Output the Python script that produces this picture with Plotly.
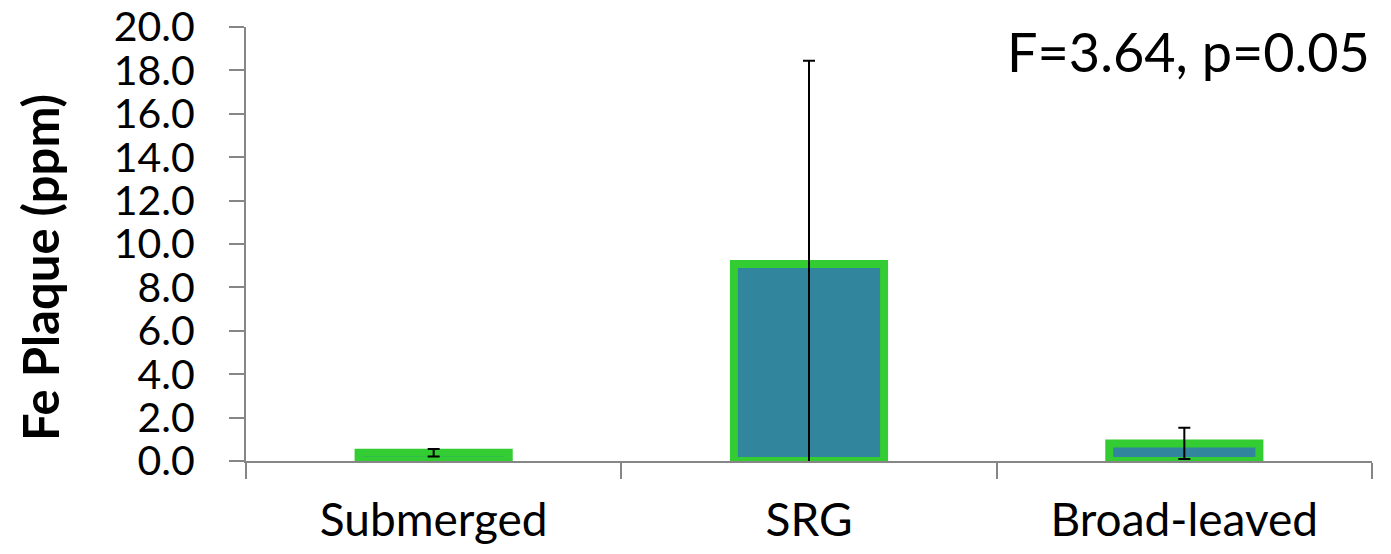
import plotly.graph_objects as go

# Fe plaque concentration by plant group
categories = ["Submerged", "SRG", "Broad-leaved"]
fe_mean = [0.38, 9.08, 0.81]
fe_err = [0.17, 9.37, 0.72]
y_ticks = [0, 2, 4, 6, 8, 10, 12, 14, 16, 18, 20]
y_title = "Fe Plaque (ppm)"
stat_text = "F=3.64, p=0.05"

FONT = "Lato"
AXIS_GREY = "#868686"

fig = go.Figure()
fig.add_trace(go.Bar(
    x=categories,
    y=fe_mean,
    width=0.4,
    marker=dict(color="#31859C", line=dict(color="#33CC33", width=8)),
    error_y=dict(type="data", array=fe_err, visible=True,
                 color="black", thickness=2, width=6),
    cliponaxis=True,
))

fig.update_layout(
    width=1391, height=554,
    margin=dict(l=246, r=19, t=27, b=93, autoexpand=False),
    paper_bgcolor="white", plot_bgcolor="white",
    showlegend=False,
    font=dict(family=FONT, color="black"),
    bargap=0.6,
)

fig.update_xaxes(
    type="category", automargin=False,
    showline=True, linecolor=AXIS_GREY, linewidth=2,
    ticks="outside", tickson="boundaries", ticklen=16,
    tickcolor=AXIS_GREY, tickwidth=2,
    tickfont=dict(family=FONT, size=46),
    ticklabelstandoff=18,
    showgrid=False, zeroline=False,
)

fig.update_yaxes(
    range=[0, 20], automargin=False,
    tickvals=y_ticks, tickformat=".1f",
    showline=True, linecolor=AXIS_GREY, linewidth=2,
    ticks="outside", ticklen=15, tickcolor=AXIS_GREY, tickwidth=2,
    tickfont=dict(family=FONT, size=41),
    ticklabelstandoff=26,
    showgrid=False, zeroline=False,
)

# vertical axis title placed left of the tick labels
fig.add_annotation(
    text="<b>" + y_title + "</b>", xref="paper", yref="paper",
    x=-0.183, y=0.447, xanchor="center", yanchor="middle",
    textangle=-90, showarrow=False,
    font=dict(family=FONT, size=49, color="black"),
)

fig.add_annotation(
    text=stat_text, xref="paper", yref="paper",
    x=1.0, y=1.0, xanchor="right", yanchor="top", yshift=10,
    showarrow=False, font=dict(family=FONT, size=54, color="black"),
)

fig.write_html("out.html")
